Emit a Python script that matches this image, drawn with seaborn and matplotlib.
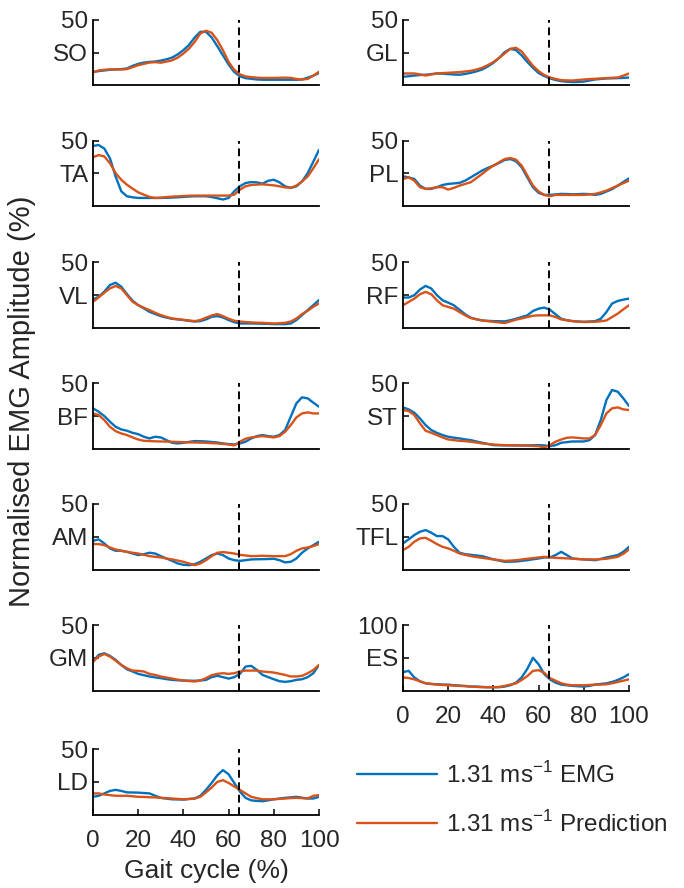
import numpy as np
import pandas as pd
import matplotlib
matplotlib.use("Agg")
import matplotlib.pyplot as plt
import seaborn as sns
from matplotlib.lines import Line2D

# Gait cycle sample points (%)
gait = np.arange(0, 100.1, 2.5)

# Normalised EMG amplitude (%), measured EMG and model prediction per muscle
SO_emg = [10.3, 11, 11.5, 12, 12.3, 12.5, 13, 15, 16.5, 17.5, 18, 18.3, 19, 20, 21.3, 23.8, 27, 31, 36.7, 41, 41, 36.7, 30, 23, 16, 10.3, 7, 5.6, 5.1, 4.6, 4.4, 4.4, 4.4, 4.4, 4.4, 4.4, 4.4, 4.6, 6, 7.5, 9.5]
SO_pred = [10, 11.5, 12, 12.3, 12.3, 12.2, 12.5, 14, 15.5, 16.5, 17.5, 17.8, 17.4, 18.2, 19.2, 21.3, 24.4, 28.2, 33.3, 39.7, 41.8, 40.3, 34.6, 26.9, 18, 12, 8.5, 6.9, 6.4, 6, 5.8, 5.8, 5.8, 5.9, 6, 5.8, 5, 4.6, 5, 7.5, 10.5]
GL_emg = [6.6, 7.1, 7.6, 8, 8.2, 8.7, 9.2, 9, 8.7, 8.4, 8.2, 8.8, 9.7, 10.8, 12.2, 14.5, 17.3, 21, 25.5, 28, 27, 23, 18, 13.5, 9.5, 7.2, 5.5, 4.2, 3.3, 2.9, 2.6, 2.7, 3, 3.8, 4.6, 5, 5.4, 5.5, 5.6, 5.8, 6.1]
GL_pred = [9.2, 9.2, 9.2, 8.5, 7.6, 8.4, 9.2, 9.5, 9.7, 10, 10.2, 10.7, 11.2, 12.2, 13.5, 15.5, 17.9, 21, 24.5, 28, 28.8, 26, 20.5, 15, 11, 8, 6.2, 5, 4.1, 3.9, 3.8, 4.2, 4.6, 4.9, 5.1, 5.4, 5.6, 5.9, 6.1, 7.5, 9.2]
TA_emg = [46, 46.7, 44, 36.6, 22.7, 11.4, 7.6, 6.8, 6.3, 6.3, 6.3, 6.3, 6.3, 6.4, 6.6, 6.8, 7.1, 7.4, 7.6, 7.6, 7.6, 7, 6.1, 5.1, 6.3, 11.4, 15.2, 17.7, 18.4, 18.2, 17.2, 19.4, 20.2, 18.2, 15.2, 13.9, 15.2, 18.9, 25.3, 34, 43]
TA_pred = [37.4, 39, 38, 32.8, 25.3, 20.2, 16.4, 13.4, 10.6, 8.8, 7.1, 6.3, 6.5, 7, 7.3, 7.5, 7.8, 8, 8.1, 8.1, 8.1, 8.1, 8.1, 8.1, 8.1, 8.8, 12.6, 15.2, 16.2, 16.5, 16.7, 16.3, 15.9, 15.2, 14.4, 14.1, 15.7, 18.9, 22.7, 29, 35.9]
PL_emg = [22.8, 22, 20.8, 15.7, 13.2, 13.2, 14.5, 16.2, 17, 17.4, 17.8, 19.5, 22, 24.6, 27.2, 29.2, 31, 33, 35.3, 36, 34.3, 29.7, 22, 14.5, 10.2, 8.6, 8.6, 9, 9.4, 9.3, 9.1, 9.2, 9.4, 9.2, 8.6, 9.4, 11.2, 13, 15.7, 18.5, 21.3]
PL_pred = [20.8, 22, 19.5, 14.5, 13.2, 13.7, 14.5, 14.5, 12.7, 14, 15.7, 17, 18.3, 21.5, 24.6, 28, 31, 33.5, 36, 36.8, 35.5, 31, 23.4, 15.7, 11.2, 8.6, 7.6, 8.6, 8.6, 8.6, 8.6, 8.6, 8.6, 9, 9.4, 10.5, 11.9, 13.8, 15.7, 17.6, 19.5]
VL_emg = [21.7, 23.7, 27.6, 32.7, 34.4, 31.4, 25.8, 20.7, 17.3, 14.8, 12.2, 10.5, 8.9, 7.8, 6.9, 6.4, 5.9, 5.3, 4.8, 5.1, 6.4, 8.4, 8.9, 7.9, 5.9, 4.3, 3.3, 3.3, 3.3, 3.2, 3.1, 3, 2.8, 2.8, 2.8, 3.3, 5.9, 9.7, 13.5, 17.3, 21.2]
VL_pred = [19.9, 23.2, 26.8, 30.1, 31.9, 30.1, 25, 19.9, 17.3, 15.3, 13.5, 11.5, 9.7, 8.3, 7.1, 6.6, 6.1, 5.6, 5.1, 5.9, 7.7, 9.4, 10.5, 8.9, 6.9, 5.4, 4.8, 4.4, 4.1, 3.9, 3.8, 3.5, 3.3, 3.5, 3.8, 4.8, 7.1, 10.5, 13, 16.1, 18.6]
RF_emg = [23.1, 23.1, 24.9, 29.2, 32, 30, 24.9, 21, 19.2, 17.2, 13.8, 10.3, 7.7, 6.5, 5.6, 5.3, 5.1, 5, 4.9, 5.8, 6.9, 8.2, 9.5, 12.8, 14.6, 15.4, 13.8, 10.3, 6.9, 5.8, 5.1, 4.8, 4.6, 4.8, 5.1, 6.9, 12, 18.5, 20.5, 21.5, 22.3]
RF_pred = [17.2, 19.7, 22.3, 25.6, 27.4, 25.6, 21, 17.2, 15.9, 14.6, 12, 9.5, 7.4, 6.5, 5.6, 5.1, 4.6, 4.1, 3.6, 4.9, 6.2, 7.2, 8.2, 9.2, 9.5, 9.5, 9.5, 8.2, 6.4, 5.7, 5.1, 4.7, 4.4, 4.5, 4.6, 5, 5.6, 8.2, 10.8, 14.1, 17.2]
BF_emg = [30.9, 28.3, 25, 20.7, 16.8, 14.8, 13.8, 12.2, 11.2, 9.2, 7.9, 9.2, 8.7, 6.6, 4.6, 4.1, 4.6, 5.3, 5.9, 5.8, 5.6, 5.2, 4.8, 4.1, 3.6, 3.3, 4.1, 5.4, 7.9, 9.7, 10.5, 9.7, 9.2, 10.5, 14.3, 24.5, 34.7, 39.3, 38.5, 35.2, 32.1]
BF_pred = [27, 25.8, 21.9, 16.8, 13.5, 11.7, 10.5, 8.7, 7.1, 6.1, 5.9, 5.7, 5.6, 5.5, 5.4, 5.2, 5.1, 4.9, 4.8, 4.7, 4.6, 4.3, 4.1, 3.7, 3.3, 2.6, 5.4, 7.7, 8.7, 9.2, 9.7, 9.2, 8.7, 9.7, 13, 18.1, 24, 27, 27.8, 27, 27]
ST_emg = [31.6, 30.1, 27.6, 23.2, 18.1, 14.3, 12.2, 10.5, 9.2, 8.5, 7.9, 7.2, 6.6, 5.6, 4.6, 3.7, 2.8, 2.7, 2.6, 2.6, 2.6, 2.6, 2.6, 2.7, 2.8, 2.6, 2, 2.8, 4.6, 5.1, 5.6, 5.6, 5.6, 6.6, 10.5, 21.9, 37.2, 44.9, 43.6, 38.5, 32.7]
ST_pred = [29.6, 28.8, 25.8, 19.4, 13.8, 12.2, 10.5, 8.7, 7.1, 6.6, 6.1, 5.8, 5.4, 4.8, 4.1, 3.7, 3.3, 3, 2.8, 2.7, 2.6, 2.5, 2.4, 2.2, 2, 1, 2.8, 5.4, 7.1, 8.4, 8.7, 8.3, 7.9, 7.9, 10.5, 18.1, 27, 30.9, 31.6, 30.1, 29.6]
AM_emg = [21.9, 23, 19.9, 16.1, 14.3, 14.3, 13.5, 12.2, 11, 11.7, 12.8, 12.2, 10.2, 8.4, 6.6, 4.6, 3.6, 3.3, 4.1, 5.9, 8.4, 11, 12.2, 11, 8.4, 7.1, 6.6, 7.1, 7.7, 7.8, 7.9, 8, 8.2, 7.1, 5.4, 5.9, 8.4, 12.8, 16.1, 18.6, 21.2]
AM_pred = [19.4, 19.4, 18.6, 16.8, 15.3, 14.3, 13.5, 12.8, 12.2, 11.2, 10.2, 9.7, 9.2, 8.4, 7.7, 6.8, 5.9, 4.6, 3.3, 4.6, 7.1, 10.2, 12.8, 13.3, 12.8, 12.2, 11.2, 10.7, 10.2, 10.3, 10.5, 10.3, 10.2, 10.2, 10.2, 11.7, 14.3, 16.1, 16.8, 17.9, 19.4]
TFL_emg = [19.9, 23, 26.3, 28.8, 30.1, 28.1, 25.5, 25.5, 23, 17.3, 12.8, 11.7, 11.2, 10.7, 10.2, 9, 7.7, 6.8, 5.9, 6, 6.1, 6.6, 7.1, 7.8, 8.4, 9.2, 9.2, 11, 13.5, 11, 8.4, 8, 7.7, 7.4, 7.1, 8.1, 9.2, 10.1, 11, 13.5, 17.3]
TFL_pred = [14.8, 17.3, 21.2, 23.7, 24.2, 21.9, 19.4, 17.3, 16.1, 14.3, 12.2, 11.2, 10.2, 9.5, 8.9, 8.3, 7.7, 7.2, 6.6, 6.8, 7.1, 7.6, 8.2, 8.7, 9.2, 9.7, 9.2, 8.9, 8.7, 8.5, 8.2, 8, 7.7, 7.7, 7.7, 7.9, 8.2, 8.9, 9.7, 12, 15.3]
GM_emg = [22.1, 27.2, 28.4, 26.4, 23.4, 19.5, 16.2, 14.5, 12.7, 11.7, 10.7, 10, 9.4, 8.7, 8.1, 7.8, 7.6, 7.5, 7.4, 7.7, 8.1, 10.2, 11.2, 10.2, 9.1, 10.2, 12.7, 18.3, 18.8, 15.7, 11.9, 10.2, 8.6, 7.1, 6.6, 7.1, 8.1, 8.6, 10.2, 13.2, 19.5]
GM_pred = [22.1, 25.9, 27.9, 25.9, 22.8, 19.5, 17, 15.2, 15, 14.5, 12.7, 11.9, 10.7, 9.9, 9.1, 8.3, 7.6, 7.2, 6.9, 7.6, 9.4, 11.7, 12.7, 13.2, 12.7, 13.2, 14.5, 15.2, 15.2, 15.2, 14.5, 14.1, 13.7, 12.8, 11.9, 10.7, 10.7, 11.2, 13.2, 15.7, 19.5]
ES_emg = [28, 30, 20, 14, 11, 10, 9.5, 9, 9, 8, 7.5, 7, 6, 6, 5.5, 5, 5, 5, 6, 8, 12, 20, 33, 50, 40, 25, 17, 12, 9, 8, 7, 6.5, 6, 7, 9, 10, 11, 13, 16, 20, 25]
ES_pred = [20, 19, 17, 14, 11, 10, 9, 8.5, 8, 7.5, 7, 6.5, 6, 5.5, 5, 5, 5, 5.5, 7, 9, 11, 16, 22, 30, 31, 27, 19, 15, 11, 9, 8, 8, 8, 8.5, 9, 9, 9.5, 11, 13, 15, 17]
LD_emg = [13.5, 14.3, 16.1, 18, 18.8, 18, 16.9, 16.8, 16.7, 16.4, 16.1, 14.3, 12.7, 12.1, 11.6, 11.5, 11.4, 11.8, 12.2, 14.3, 18.8, 24.1, 29.9, 33.9, 30.7, 24.1, 17.5, 12.7, 10.8, 10.4, 10.1, 10.8, 11.6, 12.2, 12.7, 13.1, 13.5, 12.8, 12.2, 12.2, 13.5]
LD_pred = [16.1, 16.1, 15.3, 14.8, 14.3, 14.3, 14.3, 13.9, 13.5, 13.4, 13.2, 13, 12.7, 12.5, 12.2, 11.9, 11.6, 11.9, 12.2, 13.5, 16.9, 20.6, 24.9, 26.2, 24.1, 21.4, 18.8, 16.1, 13.5, 12.5, 11.6, 11.6, 11.6, 11.9, 12.2, 12.5, 12.7, 12.5, 12.2, 14.3, 14.8]

left_muscles = ["SO", "TA", "VL", "BF", "AM", "GM", "LD"]
right_muscles = ["GL", "PL", "RF", "ST", "TFL", "ES"]
series = {
    "SO": (SO_emg, SO_pred), "GL": (GL_emg, GL_pred),
    "TA": (TA_emg, TA_pred), "PL": (PL_emg, PL_pred),
    "VL": (VL_emg, VL_pred), "RF": (RF_emg, RF_pred),
    "BF": (BF_emg, BF_pred), "ST": (ST_emg, ST_pred),
    "AM": (AM_emg, AM_pred), "TFL": (TFL_emg, TFL_pred),
    "GM": (GM_emg, GM_pred), "ES": (ES_emg, ES_pred),
    "LD": (LD_emg, LD_pred),
}
y_max = {"ES": 100}
toe_off = 64.7
gait_ticks = [0, 20, 40, 60, 80, 100]
legend_labels = [r"1.31 ms$^{-1}$ EMG", r"1.31 ms$^{-1}$ Prediction"]
colors = {"EMG": "#0072BD", "Prediction": "#D95319"}

sns.set_theme(style="ticks")
plt.rcParams["font.family"] = ["Liberation Sans", "DejaVu Sans"]
plt.rcParams["mathtext.fontset"] = "custom"
plt.rcParams["mathtext.rm"] = "Liberation Sans"
FS = 17.5
TEXT = "#262626"

W, H = 684, 888
fig = plt.figure(figsize=(W / 100, H / 100), dpi=100)
row_tops = [20, 140.7, 262.3, 383.3, 504, 625, 749]
ax_h = 65.5
col_x = [93, 403]
ax_w = 226

for col, names in enumerate([left_muscles, right_muscles]):
    for row, name in enumerate(names):
        top = row_tops[row]
        ax = fig.add_axes([col_x[col] / W, 1 - (top + ax_h) / H, ax_w / W, ax_h / H])
        emg, pred = series[name]
        df = pd.DataFrame({
            "gait": np.concatenate([gait, gait]),
            "amp": np.concatenate([emg, pred]),
            "kind": ["EMG"] * len(gait) + ["Prediction"] * len(gait),
        })
        sns.lineplot(data=df, x="gait", y="amp", hue="kind", palette=colors,
                     linewidth=1.7, legend=False, ax=ax)
        ymax = y_max.get(name, 50)
        ax.axvline(toe_off, color="black", linestyle=(0, (4, 2.4)), linewidth=1.4)
        ax.set_xlim(0, 100)
        ax.set_ylim(0, ymax)
        ax.set_yticks([ymax / 2, ymax])
        ax.set_yticklabels([name, str(ymax)])
        last = row == len(names) - 1
        if last:
            ax.set_xticks(gait_ticks)
            ax.set_xticklabels([str(t) for t in gait_ticks])
        else:
            ax.set_xticks([])
        ax.set_xlabel("Gait cycle (%)" if (last and col == 0) else "",
                      fontsize=19, labelpad=5, color=TEXT)
        ax.set_ylabel("")
        ax.tick_params(axis="y", direction="in", length=4, width=1.1,
                       labelsize=FS, pad=3.5, color="black", labelcolor=TEXT)
        ax.tick_params(axis="x", direction="in", length=4, width=1.1,
                       labelsize=FS, pad=11, color="black", labelcolor=TEXT)
        for side in ("top", "right"):
            ax.spines[side].set_visible(False)
        for side in ("left", "bottom"):
            ax.spines[side].set_linewidth(1.3)
            ax.spines[side].set_color("black")
        ax.set_facecolor("none")

fig.text(22 / W, 1 - 401 / H, "Normalised EMG Amplitude (%)", rotation=90,
         ha="center", va="center", fontsize=21, color=TEXT)

handles = [Line2D([], [], color=colors["EMG"], linewidth=1.7),
           Line2D([], [], color=colors["Prediction"], linewidth=1.7)]
leg = fig.legend(handles, legend_labels, loc="upper left",
                 bbox_to_anchor=(357 / W, 1 - 762 / H), frameon=False, fontsize=FS,
                 handlelength=3.3, handletextpad=0.35, labelspacing=0.95,
                 borderpad=0, borderaxespad=0)
for t in leg.get_texts():
    t.set_color(TEXT)

fig.savefig("out.png", dpi=100)
